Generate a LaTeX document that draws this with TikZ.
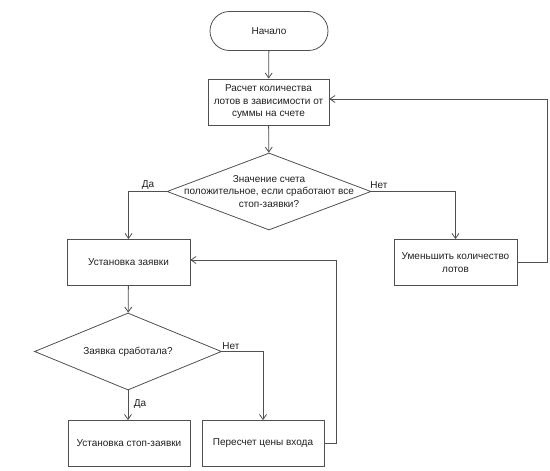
\documentclass[tikz,border=0pt]{standalone}
\usepackage{fontspec}
\setmainfont{Liberation Sans}
\usetikzlibrary{arrows.meta,shapes.geometric}
\definecolor{ln}{HTML}{505050}
\definecolor{tx}{HTML}{202020}
\tikzset{
  base/.style={draw=ln, line width=0.8pt, text=tx, font=\fontsize{10}{12.5}\selectfont, align=center, inner sep=0pt},
  procbox/.style={base, rectangle, minimum width=#1, minimum height=46pt},
  termbox/.style={base, rectangle, rounded corners=19.5pt, minimum width=118pt, minimum height=39pt},
  decbox/.style={base, diamond, minimum width=#1, minimum height=77pt},
  dectext/.style={text=tx, font=\fontsize{10}{12.5}\selectfont, align=center, inner sep=0pt},
  lbl/.style={text=tx, font=\fontsize{10}{12}\selectfont, inner sep=0pt},
  conn/.style={draw=ln, line width=0.8pt, -{Straight Barb[length=5pt,width=7pt]}},
}
\begin{document}
\begin{tikzpicture}[x=1pt, y=-1pt]
\useasboundingbox (0,0) rectangle (550,471);
\node[termbox] (start) at (269,31) {Начало};
\node[procbox=121pt] (b1) at (268.5,102) {Расчет количества\\лотов в зависимости от\\суммы на счете};
\node[decbox=204pt] (d1) at (269,191.5) {};
\node[dectext] (d1t) at (d1.center) {Значение счета\\положительное, если сработают все\\стоп-заявки?};
\node[procbox=123pt] (b2) at (128.5,262.5) {Установка заявки};
\node[procbox=123pt] (b3) at (455.5,262.5) {Уменьшить количество\\лотов};
\node[decbox=187pt] (d2) at (128,351.5) {};
\node[dectext] (d2t) at (d2.center) {Заявка сработала?};
\node[procbox=122pt] (b4) at (129,443.5) {Установка стоп-заявки};
\node[procbox=122pt] (b5) at (263,443.5) {Пересчет цены входа};

\node[lbl] (l1) at (148,185) {Да};
\node[lbl] (l2) at (379,185) {Нет};
\node[lbl] (l3) at (231,346) {Нет};
\node[lbl] (l4) at (140,404) {Да};

\coordinate (r1) at (547,99);
\coordinate (r2) at (336,260);

\draw[conn] (start) -- (b1);
\draw[conn] (b1) -- (d1);
\draw[conn] (d1.west) -| (b2.north);
\draw[conn] (d1.east) -| (b3.north);
\draw[conn] (b3.east) -| (r1) -- (b1.east |- r1);
\draw[conn] (b2) -- (d2);
\draw[conn] (d2.south) -- (d2.south |- b4.north);
\draw[conn] (d2.east) -| (b5.north);
\draw[conn] (b5.east) -| (r2) -- (b2.east |- r2);
\end{tikzpicture}
\end{document}
